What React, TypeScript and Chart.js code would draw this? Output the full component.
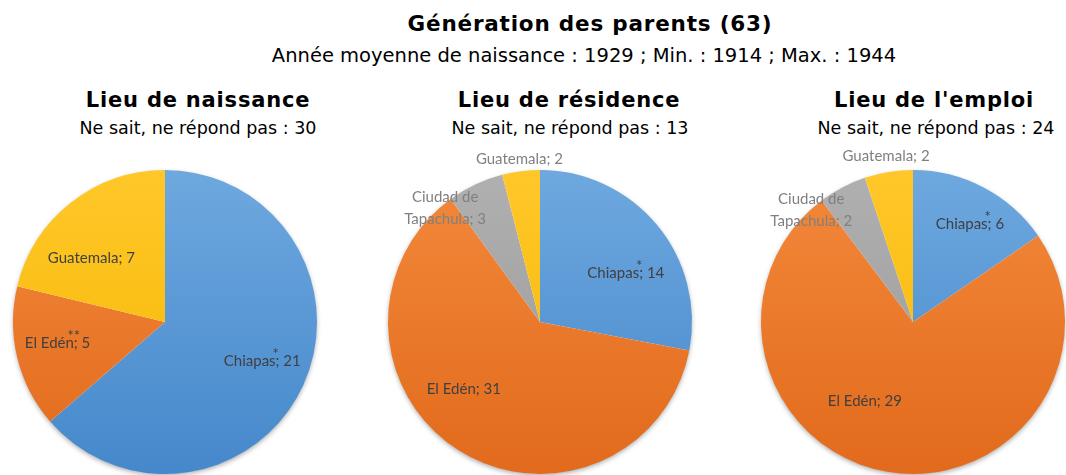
import React, { useEffect, useRef } from "react";
import { Chart, registerables } from "chart.js";

Chart.register(...registerables);

// ---------- data ----------
const mainTitle = "Génération des parents (63)";
const mainSubtitle = "Année moyenne de naissance : 1929 ; Min. : 1914 ; Max. : 1944";

const pieTitles = ["Lieu de naissance", "Lieu de résidence", "Lieu de l'emploi"];
const pieSubtitles = [
  "Ne sait, ne répond pas : 30",
  "Ne sait, ne répond pas : 13",
  "Ne sait, ne répond pas : 24",
];

const naissanceLabels = ["Chiapas", "El Edén", "Guatemala"];
const naissanceValues = [21, 5, 7];
const naissanceMarks = ["*", "**", ""];

const residenceLabels = ["Chiapas", "El Edén", "Ciudad de Tapachula", "Guatemala"];
const residenceValues = [14, 31, 3, 2];
const residenceMarks = ["*", "", "", ""];

const emploiLabels = ["Chiapas", "El Edén", "Ciudad de Tapachula", "Guatemala"];
const emploiValues = [6, 29, 2, 2];
const emploiMarks = ["*", "", "", ""];

// ---------- styles ----------
const COLORS: Record<string, [string, string]> = {
  Chiapas: ["#6EA8DF", "#4588CB"],
  "El Edén": ["#F3893B", "#E26A1C"],
  "Ciudad de Tapachula": ["#B0B0B0", "#989898"],
  Guatemala: ["#FFC72A", "#F5B800"],
};

const CANVAS = 360;
const PAD = 28;

type PieSpec = {
  labels: string[];
  values: number[];
  marks: string[];
  labelRadius: number[]; // fraction of the outer radius
  labelShift: number[]; // degrees, clockwise, from the slice's mid angle
  cx: number;
  cy: number;
};

const pies: PieSpec[] = [
  {
    labels: naissanceLabels,
    values: naissanceValues,
    marks: naissanceMarks,
    labelRadius: [0.69, 0.72, 0.64],
    labelShift: [-2.6, 2.6, -11],
    cx: 165,
    cy: 322,
  },
  {
    labels: residenceLabels,
    values: residenceValues,
    marks: residenceMarks,
    labelRadius: [0.65, 0.67, 0.975, 1.08],
    labelShift: [9.9, 16, -14.6, 0],
    cx: 540,
    cy: 322,
  },
  {
    labels: emploiLabels,
    values: emploiValues,
    marks: emploiMarks,
    labelRadius: [0.745, 0.61, 0.995, 1.105],
    labelShift: [2.5, 22, -14.6, 0],
    cx: 913,
    cy: 322,
  },
];

const LABEL_FONT = "15px Lato";

function wrap(ctx: CanvasRenderingContext2D, text: string, maxW: number): string[] {
  const words = text.split(" ");
  const lines: string[] = [];
  let cur = "";
  for (const w of words) {
    const t = cur ? cur + " " + w : w;
    if (ctx.measureText(t).width > maxW && cur) {
      lines.push(cur);
      cur = w;
    } else cur = t;
  }
  if (cur) lines.push(cur);
  return lines;
}

const shadowPlugin = {
  id: "pieShadow",
  beforeDatasetsDraw(chart: any) {
    const meta = chart.getDatasetMeta(0);
    const arc = meta.data[0];
    if (!arc) return;
    const { x, y, outerRadius } = arc;
    const ctx = chart.ctx;
    ctx.save();
    ctx.shadowColor = "rgba(0,0,0,0.35)";
    ctx.shadowBlur = 5;
    ctx.shadowOffsetY = 2;
    ctx.beginPath();
    ctx.arc(x, y, outerRadius - 0.5, 0, Math.PI * 2);
    ctx.fillStyle = "#ffffff";
    ctx.fill();
    ctx.restore();
  },
};

const labelPlugin = {
  id: "pieLabels",
  afterDatasetsDraw(chart: any, _args: any, opts: any) {
    const spec: PieSpec = opts.spec;
    const meta = chart.getDatasetMeta(0);
    const ctx: CanvasRenderingContext2D = chart.ctx;
    ctx.save();
    ctx.font = LABEL_FONT;
    ctx.textBaseline = "middle";
    meta.data.forEach((arc: any, i: number) => {
      const mid = (arc.startAngle + arc.endAngle) / 2 + (spec.labelShift[i] * Math.PI) / 180;
      const f = spec.labelRadius[i];
      const r = arc.outerRadius * f;
      const px = arc.x + Math.cos(mid) * r;
      const py = arc.y + Math.sin(mid) * r;
      const text = `${spec.labels[i]}; ${spec.values[i]}`;
      const lines = wrap(ctx, text, 92);
      const lh = 22;
      const outside = f >= 0.95;
      ctx.fillStyle = outside ? "#808080" : "#404040";
      lines.forEach((ln, k) => {
        const ly = py + (k - (lines.length - 1) / 2) * lh;
        ctx.textAlign = "center";
        ctx.fillText(ln, px, ly);
        if (k === 0 && spec.marks[i]) {
          const name = spec.labels[i];
          const full = ctx.measureText(ln).width;
          const nameW = ctx.measureText(name).width;
          const mx = px - full / 2 + nameW;
          ctx.fillText(spec.marks[i], mx, ly - 7);
        }
      });
    });
    ctx.restore();
  },
};

function Pie({ spec }: { spec: PieSpec }) {
  const ref = useRef<HTMLCanvasElement | null>(null);
  useEffect(() => {
    if (!ref.current) return;
    const chart = new Chart(ref.current, {
      type: "pie",
      data: {
        labels: spec.labels,
        datasets: [
          {
            data: spec.values,
            borderWidth: 0,
            backgroundColor: (c: any) => {
              const name = spec.labels[c.dataIndex];
              const [light, dark] = COLORS[name];
              const area = c.chart.chartArea;
              if (!area) return light;
              const g = c.chart.ctx.createLinearGradient(0, area.top, 0, area.bottom);
              g.addColorStop(0, light);
              g.addColorStop(1, dark);
              return g;
            },
          },
        ],
      },
      options: {
        responsive: false,
        animation: false,
        layout: { padding: PAD },
        plugins: {
          legend: { display: false },
          tooltip: { enabled: false },
          pieLabels: { spec },
        } as any,
      },
      plugins: [shadowPlugin, labelPlugin],
    });
    return () => chart.destroy();
  }, [spec]);
  return (
    <canvas
      ref={ref}
      width={CANVAS}
      height={CANVAS}
      style={{ position: "absolute", left: spec.cx - CANVAS / 2, top: spec.cy - CANVAS / 2, width: CANVAS, height: CANVAS }}
    />
  );
}

const textBase: React.CSSProperties = {
  position: "absolute",
  width: 700,
  textAlign: "center",
  fontFamily: "'DejaVu Sans', sans-serif",
  color: "#000",
  whiteSpace: "nowrap",
};

function Text({
  cx,
  baseline,
  size,
  bold,
  spacing,
  children,
}: {
  cx: number;
  baseline: number;
  size: number;
  bold?: boolean;
  spacing?: number;
  children: React.ReactNode;
}) {
  return (
    <div
      style={{
        ...textBase,
        left: cx - 350,
        top: baseline - 0.846 * size,
        fontSize: size,
        lineHeight: `${size}px`,
        fontWeight: bold ? "bold" : "normal",
        letterSpacing: spacing ? `${spacing}px` : undefined,
      }}
    >
      {children}
    </div>
  );
}

const titleCenters = [198, 569, 934];
const subCenters = [198, 570, 936];

export default function App() {
  useEffect(() => {
    document.body.style.margin = "0";
  }, []);
  return (
    <div style={{ position: "fixed", left: 0, top: 0, width: 1066, height: 475, overflow: "hidden", background: "#fff" }}>
      {pies.map((p, i) => (
        <Pie key={i} spec={p} />
      ))}
      <Text cx={590} baseline={31} size={21.5} bold spacing={0.8}>
        {mainTitle}
      </Text>
      <Text cx={584} baseline={62} size={19.5}>
        {mainSubtitle}
      </Text>
      {pieTitles.map((t, i) => (
        <Text key={"t" + i} cx={titleCenters[i]} baseline={108} size={21} bold spacing={0.8}>
          {t}
        </Text>
      ))}
      {pieSubtitles.map((t, i) => (
        <Text key={"s" + i} cx={subCenters[i]} baseline={135} size={17.5}>
          {t}
        </Text>
      ))}
    </div>
  );
}
